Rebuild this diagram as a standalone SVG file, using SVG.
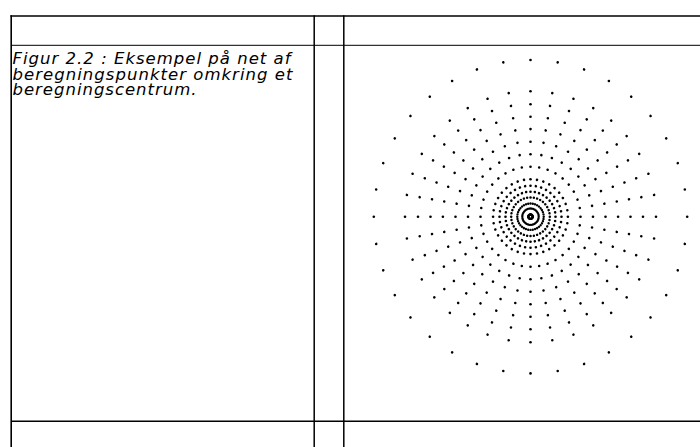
<svg xmlns="http://www.w3.org/2000/svg" xmlns:xlink="http://www.w3.org/1999/xlink" width="700" height="447" viewBox="0 0 700 447">
  <style>
    .grid line { stroke: #000; stroke-linecap: butt; }
    .cap { font-family: Verdana, "DejaVu Sans", sans-serif; font-style: italic; font-size: 16.5px; fill: #000; }
    .dot { fill: #000; }
  </style>
  <defs>
    <g id="ray">
      <circle class="dot" cx="2.2" cy="0" r="1.15"/>
      <circle class="dot" cx="8.2" cy="0" r="1.15"/>
      <circle class="dot" cx="13.2" cy="0" r="1.2"/>
      <circle class="dot" cx="19.3" cy="0" r="1.25"/>
      <circle class="dot" cx="25" cy="0" r="1.3"/>
      <circle class="dot" cx="31" cy="0" r="1.3"/>
      <circle class="dot" cx="37.4" cy="0" r="1.3"/>
      <circle class="dot" cx="50" cy="0" r="1.3"/>
      <circle class="dot" cx="62.5" cy="0" r="1.3"/>
      <circle class="dot" cx="75" cy="0" r="1.3"/>
      <circle class="dot" cx="87.6" cy="0" r="1.3"/>
      <circle class="dot" cx="100" cy="0" r="1.3"/>
      <circle class="dot" cx="112.5" cy="0" r="1.3"/>
      <circle class="dot" cx="125.5" cy="0" r="1.3"/>
      <circle class="dot" cx="156.7" cy="0" r="1.3"/>
    </g>
  </defs>
  <rect x="0" y="0" width="700" height="447" fill="#fff"/>
  <g id="table-grid" class="grid">
    <line x1="10.4" y1="16" x2="700" y2="16" stroke-width="1.5"/>
    <line x1="11.2" y1="15.3" x2="11.2" y2="447" stroke-width="1.6"/>
    <line x1="314.2" y1="15.3" x2="314.2" y2="447" stroke-width="1.5"/>
    <line x1="343.8" y1="15.3" x2="343.8" y2="447" stroke-width="1.5"/>
    <line x1="11" y1="45.3" x2="700" y2="45.3" stroke-width="1"/>
    <line x1="11" y1="421.2" x2="700" y2="421.2" stroke-width="1.5"/>
  </g>
  <g id="caption" class="cap">
    <text x="12.5" y="64.3" textLength="278" lengthAdjust="spacing">Figur 2.2 : Eksempel på net af</text>
    <text x="12.5" y="79.5" textLength="280" lengthAdjust="spacing">beregningspunkter omkring et</text>
    <text x="12.5" y="94.7" textLength="184" lengthAdjust="spacing">beregningscentrum.</text>
  </g>
  <g id="calculation-grid" transform="translate(530.5 216.7)">
    <use xlink:href="#ray" transform="rotate(0)"/>
    <use xlink:href="#ray" transform="rotate(10)"/>
    <use xlink:href="#ray" transform="rotate(20)"/>
    <use xlink:href="#ray" transform="rotate(30)"/>
    <use xlink:href="#ray" transform="rotate(40)"/>
    <use xlink:href="#ray" transform="rotate(50)"/>
    <use xlink:href="#ray" transform="rotate(60)"/>
    <use xlink:href="#ray" transform="rotate(70)"/>
    <use xlink:href="#ray" transform="rotate(80)"/>
    <use xlink:href="#ray" transform="rotate(90)"/>
    <use xlink:href="#ray" transform="rotate(100)"/>
    <use xlink:href="#ray" transform="rotate(110)"/>
    <use xlink:href="#ray" transform="rotate(120)"/>
    <use xlink:href="#ray" transform="rotate(130)"/>
    <use xlink:href="#ray" transform="rotate(140)"/>
    <use xlink:href="#ray" transform="rotate(150)"/>
    <use xlink:href="#ray" transform="rotate(160)"/>
    <use xlink:href="#ray" transform="rotate(170)"/>
    <use xlink:href="#ray" transform="rotate(180)"/>
    <use xlink:href="#ray" transform="rotate(190)"/>
    <use xlink:href="#ray" transform="rotate(200)"/>
    <use xlink:href="#ray" transform="rotate(210)"/>
    <use xlink:href="#ray" transform="rotate(220)"/>
    <use xlink:href="#ray" transform="rotate(230)"/>
    <use xlink:href="#ray" transform="rotate(240)"/>
    <use xlink:href="#ray" transform="rotate(250)"/>
    <use xlink:href="#ray" transform="rotate(260)"/>
    <use xlink:href="#ray" transform="rotate(270)"/>
    <use xlink:href="#ray" transform="rotate(280)"/>
    <use xlink:href="#ray" transform="rotate(290)"/>
    <use xlink:href="#ray" transform="rotate(300)"/>
    <use xlink:href="#ray" transform="rotate(310)"/>
    <use xlink:href="#ray" transform="rotate(320)"/>
    <use xlink:href="#ray" transform="rotate(330)"/>
    <use xlink:href="#ray" transform="rotate(340)"/>
    <use xlink:href="#ray" transform="rotate(350)"/>
  </g>
</svg>
